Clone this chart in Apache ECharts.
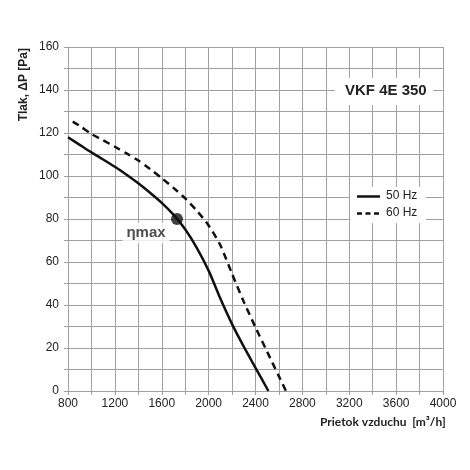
<!DOCTYPE html>
<html><head><meta charset="utf-8">
<script src="https://cdn.jsdelivr.net/npm/echarts@6/dist/echarts.min.js"></script>
<style>html,body{margin:0;padding:0;background:#fff}#c{width:470px;height:470px}</style>
</head><body><div id="c"></div>
<script>
var hz50 = [[800,118],[900,114.5],[1000,111],[1100,107.7],[1200,104.3],[1300,100.6],[1400,96.6],[1500,92.2],[1600,87.5],[1700,82],[1800,75.2],[1900,66.5],[2000,56],[2100,43],[2200,31.1],[2300,20.6],[2400,10.8],[2510,0]];
var hz60 = [[840,125.3],[900,123.3],[1000,119.5],[1100,116.6],[1200,113.6],[1300,110.5],[1400,107.2],[1500,103.3],[1600,99],[1700,94.5],[1800,89.6],[1900,83.8],[2000,77],[2100,67.8],[2200,54.5],[2300,41.5],[2400,29.6],[2500,18.2],[2600,6.8],[2660,0]];
var etaMax = [[1730,80]];
var seriesNames = ['50 Hz','60 Hz'];
var title = 'VKF 4E 350';
var xName = 'Prietok vzduchu  [m\u00b3/h]';
var yName = 'Tlak, \u0394P [Pa]';

var chart = echarts.init(document.getElementById('c'), null, {renderer:'canvas'});
var grey = '#a0a0a0';
var font = 'Liberation Sans, Arial, sans-serif';
chart.setOption({
  animation:false,
  backgroundColor:'#fff',
  grid:{left:68,right:27,top:47,bottom:79},
  xAxis:{type:'value',min:800,max:4000,interval:200,
    axisLine:{lineStyle:{color:grey}},
    axisTick:{show:true,length:4,interval:1,lineStyle:{color:grey}},
    axisLabel:{interval:1,color:'#222',fontSize:12,fontFamily:font,margin:7,
      formatter:function(v){return (v-800)%400===0?String(v):'';}},
    splitLine:{show:true,lineStyle:{color:grey,width:1}}},
  yAxis:{type:'value',min:0,max:160,interval:10,
    axisLine:{show:true,lineStyle:{color:grey}},
    axisTick:{show:true,length:4,lineStyle:{color:grey},interval:1},
    axisLabel:{color:'#222',fontSize:12,fontFamily:font,margin:9,
      formatter:function(v){return v%20===0?String(v):'';}},
    splitLine:{show:true,lineStyle:{color:grey,width:1}}},
  graphic:[
    {type:'rect',shape:{x:335,y:78,width:98,height:27},style:{fill:'#fff'},z:10},
    {type:'text',left:345,top:83,z:11,style:{text:title,font:'bold 15px '+font,fill:'#222'}},
    {type:'rect',shape:{x:350,y:187,width:76,height:36},style:{fill:'#fff'},z:10},
    {type:'line',shape:{x1:357,y1:196.5,x2:380,y2:196.5},style:{stroke:'#111',lineWidth:2.5},z:11},
    {type:'line',shape:{x1:357,y1:213.5,x2:380,y2:213.5},style:{stroke:'#111',lineWidth:2.5,lineDash:[5,3.5]},z:11},
    {type:'text',left:386,top:190,z:11,style:{text:seriesNames[0],font:'12px '+font,fill:'#222'}},
    {type:'text',left:386,top:207,z:11,style:{text:seriesNames[1],font:'12px '+font,fill:'#222'}},
    {type:'text',left:320,top:416,z:11,style:{text:xName,font:'bold 12px Lato, "Open Sans", sans-serif',fill:'#222'}},
    {type:'text',z:11,rotation:Math.PI/2,x:18,y:48,style:{text:yName,font:'bold 12px '+font,fill:'#222',align:'right',verticalAlign:'top'}}
  ],
  series:[
    {name:seriesNames[0],type:'line',data:hz50,smooth:0.25,symbol:'none',
      lineStyle:{color:'#111',width:2.5,type:'solid'},itemStyle:{color:'#111'},z:3},
    {name:seriesNames[1],type:'line',data:hz60,smooth:0.25,symbol:'none',
      lineStyle:{color:'#111',width:2.5,type:[7,5]},itemStyle:{color:'#111'},z:3},
    {name:'etaMax',type:'scatter',data:etaMax,symbolSize:12,itemStyle:{color:'#111'},z:5,
      label:{show:true,position:'inside',offset:[-31,14],formatter:'\u03b7max',
        backgroundColor:'#fff',padding:[3,4,3,4],color:'#222',fontSize:15,fontWeight:'bold',fontFamily:font}}
  ]
});
</script></body></html>
